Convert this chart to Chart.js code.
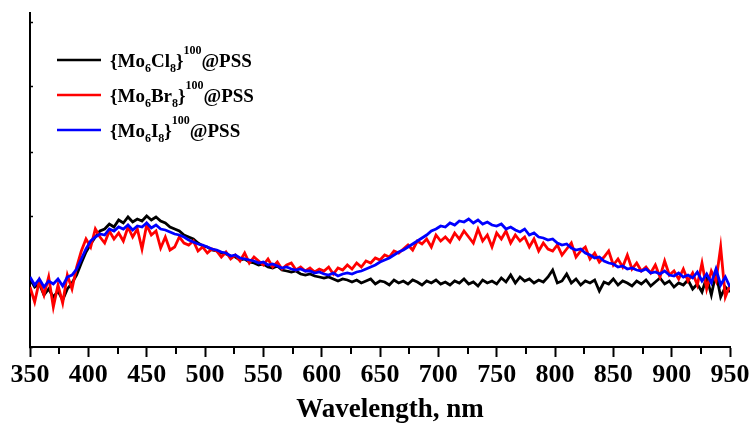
<!DOCTYPE html>
<html>
<head>
<meta charset="utf-8">
<script src="https://cdn.jsdelivr.net/npm/chart.js@4"></script>
<style>
html,body{margin:0;padding:0;background:#fff;}
#c{display:block;}
</style>
</head>
<body>
<canvas id="c" width="753" height="426"></canvas>
<script>
// Wavelength grid: 350..950 nm, every 4 nm (151 samples)
const wlStart = 350, wlStep = 4;

// Emission intensity (a.u.), one value per sample
const cl = [
 68, 60, 63, 52, 58, 50, 56, 47, 58, 64,
 72, 84, 95,103,110,116,118,123,120,127,
124,130,125,128,126,131,127,130,126,124,
120,118,116,112,110,108,104,101,100, 97,
 96, 94, 93, 91, 90, 87, 88, 85, 84, 82,
 83, 80, 79, 81, 77, 76, 75, 76, 73, 72,
 73, 71, 70, 69, 70, 68, 66, 68, 67, 65,
 67, 64, 66, 68, 63, 66, 65, 62, 67, 64,
 66, 63, 67, 65, 62, 66, 64, 67, 63, 65,
 62, 66, 64, 68, 63, 65, 61, 67, 64, 66,
 63, 69, 65, 72, 64, 70, 66, 68, 64, 67,
 65, 70, 77, 64, 66, 73, 64, 68, 62, 66,
 64, 67, 56, 65, 63, 68, 62, 66, 64, 61,
 66, 63, 67, 61, 65, 69, 63, 66, 60, 64,
 62, 67, 58, 63, 55, 70, 52, 74, 50, 60,
 55];
const br = [
 60, 45, 66, 52, 70, 40, 62, 44, 72, 58,
 80, 96,108,100,118,110,104,116,108,114,
106,120,110,118, 98,122,112,116, 99,110,
 97,100,110,104,102,106, 96,100, 94, 98,
 96, 90, 95, 88, 92, 86, 94, 84, 90, 86,
 82, 88, 80, 85, 78, 82, 84, 77, 80, 76,
 79, 75, 78, 76, 80, 73, 79, 77, 82, 78,
 84, 80, 86, 84, 89, 87, 92, 90, 96, 94,
 98,102, 97,106,103,108,100,112,106,110,
105,114,108,116,110,104,118,106,112,100,
114,108,116,104,112,106,110,100,108, 96,
104, 98, 96,102, 92, 98,104, 90, 96,100,
 88, 94, 85, 90, 96, 82, 88, 80, 92, 78,
 84, 76, 80, 74, 82, 70, 86, 72, 76, 68,
 78, 66, 74, 62, 84, 58, 76, 66,100, 50,
 62];
const iod = [
 70, 62, 68, 60, 66, 63, 68, 61, 70, 72,
 78, 88, 98,106,110,113,112,118,116,120,
118,122,117,121,120,124,119,122,118,117,
115,113,112,110,107,105,103,102,100, 98,
 97, 95, 94, 91, 92, 89, 88, 87, 86, 84,
 85, 82, 83, 81, 79, 80, 78, 77, 78, 76,
 76, 74, 75, 73, 72, 74, 71, 73, 74, 73,
 75, 76, 78, 80, 82, 85, 87, 89, 92, 95,
 97,100,103,106,109,112,116,118,121,120,
124,122,126,125,128,124,127,123,125,122,
121,123,118,120,117,115,118,112,114,110,
109,107,108,104,102,103, 99, 97, 98, 94,
 92, 89, 90, 86, 84, 83, 80, 81, 78, 79,
 77, 76, 78, 74, 75, 73, 76, 72, 71, 74,
 70, 72, 69, 75, 66, 73, 64, 78, 62, 70,
 60];

const xTickLabels = [350,400,450,500,550,600,650,700,750,800,850,900,950];
const xTitle = 'Wavelength, nm';
// legend labels as [text, kind] parts: n = normal, sub, sup
const legendCl = [['{Mo','n'],['6','sub'],['Cl','n'],['8','sub'],['}','n'],['100','sup'],['@PSS','n']];
const legendBr = [['{Mo','n'],['6','sub'],['Br','n'],['8','sub'],['}','n'],['100','sup'],['@PSS','n']];
const legendI  = [['{Mo','n'],['6','sub'],['I','n'],['8','sub'],['}','n'],['100','sup'],['@PSS','n']];

const toPts = arr => arr.map((v, i) => ({x: wlStart + i * wlStep, y: v}));

const decorPlugin = {
  id: 'decor',
  afterDraw(chart) {
    const ctx = chart.ctx;
    const xs = chart.scales.x;
    ctx.save();
    // minor ticks halfway between labelled ticks
    ctx.strokeStyle = '#000';
    ctx.lineWidth = 2;
    for (let k = 0; k < xTickLabels.length - 1; k++) {
      const px = Math.round(xs.getPixelForValue((xTickLabels[k] + xTickLabels[k + 1]) / 2));
      ctx.beginPath();
      ctx.moveTo(px, xs.top);
      ctx.lineTo(px, xs.top + 7);
      ctx.stroke();
    }
    // axis title
    ctx.fillStyle = '#000';
    ctx.font = 'bold 27px "Liberation Serif"';
    ctx.textAlign = 'center';
    ctx.textBaseline = 'alphabetic';
    ctx.fillText(xTitle, 390, 417);
    // legend
    const rows = [
      {parts: legendCl, color: '#000000', y: 60},
      {parts: legendBr, color: '#ff0000', y: 95},
      {parts: legendI,  color: '#0000ff', y: 130}
    ];
    rows.forEach(r => {
      ctx.strokeStyle = r.color;
      ctx.lineWidth = 2.5;
      ctx.beginPath();
      ctx.moveTo(57, r.y);
      ctx.lineTo(101, r.y);
      ctx.stroke();
      let x = 110;
      const base = r.y + 7;
      ctx.fillStyle = '#000';
      ctx.textAlign = 'left';
      r.parts.forEach(([t, k]) => {
        let y = base;
        if (k === 'n') { ctx.font = 'bold 19px "Liberation Serif"'; }
        else if (k === 'sub') { ctx.font = 'bold 12px "Liberation Serif"'; y = base + 5; }
        else { ctx.font = 'bold 12px "Liberation Serif"'; y = base - 13; }
        ctx.fillText(t, x, y);
        x += ctx.measureText(t).width;
      });
    });
    ctx.restore();
  }
};

new Chart(document.getElementById('c'), {
  type: 'line',
  data: {
    datasets: [
      {label: 'Cl', data: toPts(cl), borderColor: '#000000', borderWidth: 2.8, pointRadius: 0, tension: 0, order: 3},
      {label: 'Br', data: toPts(br), borderColor: '#ff0000', borderWidth: 2.8, pointRadius: 0, tension: 0, order: 2},
      {label: 'I',  data: toPts(iod), borderColor: '#0000ff', borderWidth: 2.8, pointRadius: 0, tension: 0, order: 1}
    ]
  },
  options: {
    responsive: false,
    animation: false,
    layout: {padding: {left: 30, right: 23, top: 13, bottom: 0}},
    plugins: {legend: {display: false}, tooltip: {enabled: false}},
    scales: {
      x: {
        type: 'linear', min: 350, max: 950,
        border: {display: true, color: '#000', width: 2},
        grid: {display: true, drawOnChartArea: false, drawTicks: true, tickLength: 10, tickColor: '#000', tickWidth: 2},
        ticks: {
          stepSize: 50, autoSkip: false, maxRotation: 0, padding: 3, color: '#000',
          font: {family: 'Liberation Serif', weight: 'bold', size: 26},
          callback: v => xTickLabels.includes(v) ? String(v) : ''
        },
        title: {display: false, text: xTitle},
        afterFit: s => { s.height = 79; }
      },
      y: {
        min: 0, max: 334,
        border: {display: true, color: '#000', width: 2},
        grid: {display: true, drawOnChartArea: false, drawTicks: true, tickLength: -3, tickColor: '#000', tickWidth: 1.5},
        ticks: {display: false, stepSize: 65, includeBounds: false},
        afterFit: s => { s.width = 0; }
      }
    }
  },
  plugins: [decorPlugin]
});
</script>
</body>
</html>
